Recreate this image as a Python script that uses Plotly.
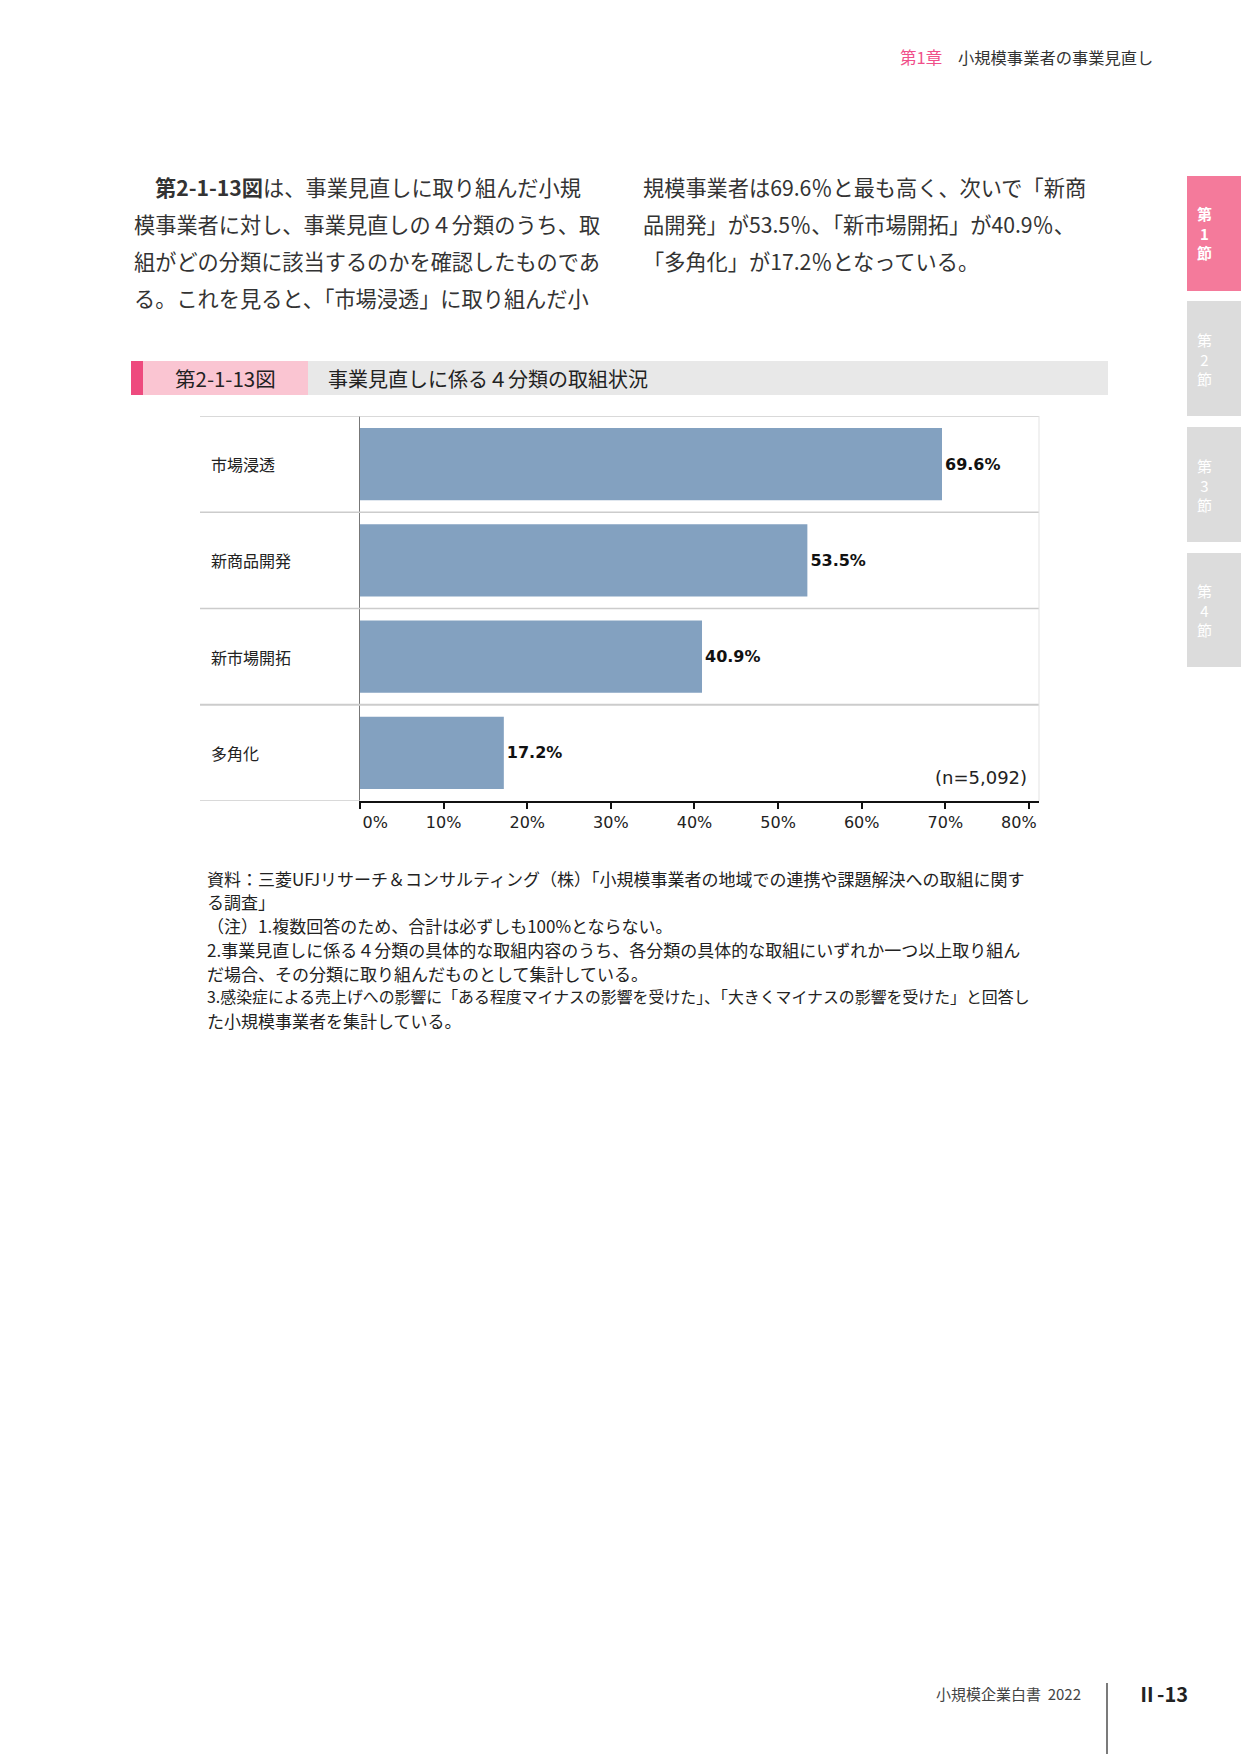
import plotly.graph_objects as go

# ---------------- data ----------------
categories = ["市場浸透", "新商品開発", "新市場開拓", "多角化"]
values = [69.6, 53.5, 40.9, 17.2]
tick_vals = [0, 10, 20, 30, 40, 50, 60, 70, 80]
tick_text = ["0%", "10%", "20%", "30%", "40%", "50%", "60%", "70%", "80%"]
sample_note = "(n=5,092)"

fig_no = "第2-1-13図"
fig_title = "事業見直しに係る４分類の取組状況"
header_chapter = "第1章"
header_title = "小規模事業者の事業見直し"

body_left = [
    "<b>第2-1-13図</b>は、事業見直しに取り組んだ小規",
    "模事業者に対し、事業見直しの４分類のうち、取",
    "組がどの分類に該当するのかを確認したものであ",
    "る。これを見ると、「市場浸透」に取り組んだ小",
]
body_right = [
    "規模事業者は69.6％と最も高く、次いで「新商",
    "品開発」が53.5％、「新市場開拓」が40.9％、",
    "「多角化」が17.2％となっている。",
]
notes = [
    "資料：三菱UFJリサーチ＆コンサルティング（株）「小規模事業者の地域での連携や課題解決への取組に関す",
    "る調査」",
    "（注）1.複数回答のため、合計は必ずしも100%とならない。",
    "2.事業見直しに係る４分類の具体的な取組内容のうち、各分類の具体的な取組にいずれか一つ以上取り組ん",
    "だ場合、その分類に取り組んだものとして集計している。",
    "3.感染症による売上げへの影響に「ある程度マイナスの影響を受けた」、「大きくマイナスの影響を受けた」と回答し",
    "た小規模事業者を集計している。",
]
tabs = ["1", "2", "3", "4"]
footer_book = "小規模企業白書  2022"
footer_page = "Ⅱ-13"

# ---------------- layout helpers ----------------
W, H = 1241, 1754
JP = "Noto Sans CJK JP"
LAT = "DejaVu Sans"


def px(x):
    return x / W


def py(y):
    return 1 - y / H


annotations = []
shapes = []


def text(x, y, s, size, color="#222", family=JP, xanchor="left", weight=None):
    f = dict(family=family, size=size, color=color)
    if weight:
        f["weight"] = weight
    annotations.append(dict(
        x=px(x), y=py(y), xref="paper", yref="paper", text=s, showarrow=False,
        xanchor=xanchor, yanchor="middle", font=f, align="center",
    ))


def rect(x0, y0, x1, y1, color):
    shapes.append(dict(type="rect", xref="paper", yref="paper",
                       x0=px(x0), x1=px(x1), y0=py(y1), y1=py(y0),
                       fillcolor=color, line=dict(width=0), layer="below"))


# ---------------- chart ----------------
fig = go.Figure()
fig.add_trace(go.Bar(
    y=categories, x=values, orientation="h",
    marker=dict(color="#83a1c0", line=dict(width=0)),
    width=0.75,
    text=[f"{v:.1f}%" for v in values],
    textposition="outside",
    textfont=dict(family=LAT, size=16, color="#111", weight="bold"),
    cliponaxis=False,
    hoverinfo="skip",
))

PL, PR, PT, PB = 360, 1039, 416, 801
GL = 200

# category labels (left aligned)
for c in categories:
    annotations.append(dict(
        x=px(209), y=c, xref="paper", yref="y", text=c, showarrow=False,
        xanchor="left", yanchor="middle",
        font=dict(family=JP, size=16, color="#222"),
    ))

# separator lines between categories
n = len(categories)
for i in range(n):
    yv = i - 0.5
    shapes.append(dict(type="line", xref="paper", yref="y",
                       x0=px(GL), x1=px(PR), y0=yv, y1=yv,
                       line=dict(color="#cccccc", width=2 if i == n - 1 else 1.3)))
shapes.append(dict(type="line", xref="paper", yref="y",
                   x0=px(GL), x1=px(PL), y0=n - 0.5, y1=n - 0.5,
                   line=dict(color="#cccccc", width=1.5)))
shapes.append(dict(type="line", xref="paper", yref="y",
                   x0=px(PR), x1=px(PR), y0=-0.5, y1=n - 0.5,
                   line=dict(color="#e3e3e3", width=1)))

text(1029, 777, sample_note, 18, "#222", LAT, xanchor="right")

# first / last tick labels sit inside the axis ends, as in the source
nb = "\u00a0"
tick_disp = list(tick_text)
tick_disp[0] = nb * 6 + tick_disp[0]
tick_disp[-1] = tick_disp[-1] + nb * 4

# ---------------- page decoration ----------------
text(898, 57, header_chapter, 16.5, "#f0508a")
text(956, 57, header_title, 16.3, "#333")

for i, s in enumerate(body_left):
    text(153 if i == 0 else 132, 186 + i * 37.3, s, 21.2, "#333")
for i, s in enumerate(body_right):
    text(641, 186 + i * 37.3, s, 21.2, "#333")

tab_ranges = [(176, 291), (301, 416), (427, 542), (553, 667)]
for i, (t, (y0, y1)) in enumerate(zip(tabs, tab_ranges)):
    rect(1187, y0, W, y1, "#f47a9b" if i == 0 else "#dcdcdc")
    cy = (y0 + y1) / 2
    w = "bold" if i == 0 else None
    text(1204, cy, "第<br>" + t + "<br>節", 15, "#ffffff", JP, xanchor="center", weight=w)

rect(131, 361, 143, 395, "#ee4a7e")
rect(143, 361, 308, 395, "#fac5d2")
rect(308, 361, 1108, 395, "#e8e8e8")
text(173, 378, fig_no, 20.5, "#222")
text(326, 378, fig_title, 20, "#222")

for i, s in enumerate(notes):
    size = 15.9 if i == 5 else 17
    text(205, 878 + i * 23.8, s, size, "#222")

text(934, 1693, footer_book, 15, "#444")
shapes.append(dict(type="line", xref="paper", yref="paper",
                   x0=px(1107), x1=px(1107), y0=py(1683), y1=0,
                   line=dict(color="#222", width=1.2)))
text(1135, 1693, footer_page, 20, "#222", JP, weight="bold")

fig.update_layout(
    width=W, height=H,
    margin=dict(l=0, r=0, t=0, b=0, autoexpand=False),
    paper_bgcolor="white", plot_bgcolor="white",
    showlegend=False,
    xaxis=dict(
        domain=[px(PL), px(PR)], range=[0, 81.2],
        tickvals=tick_vals, ticktext=tick_disp,
        ticks="outside", ticklen=6, tickwidth=2, tickcolor="#111",
        showline=True, linecolor="#111", linewidth=2,
        showgrid=False, zeroline=False, automargin=False,
        tickfont=dict(family=LAT, size=16, color="#222"),
        ticklabelstandoff=0,
        fixedrange=True,
    ),
    yaxis=dict(
        domain=[py(PB), py(PT)],
        categoryorder="array", categoryarray=categories,
        range=[n - 0.5, -0.5],
        showticklabels=False, ticks="",
        showline=True, linecolor="#777", linewidth=1,
        showgrid=False, zeroline=False, automargin=False, fixedrange=True,
    ),
    annotations=annotations,
    shapes=shapes,
)

fig.write_html("out.html")
